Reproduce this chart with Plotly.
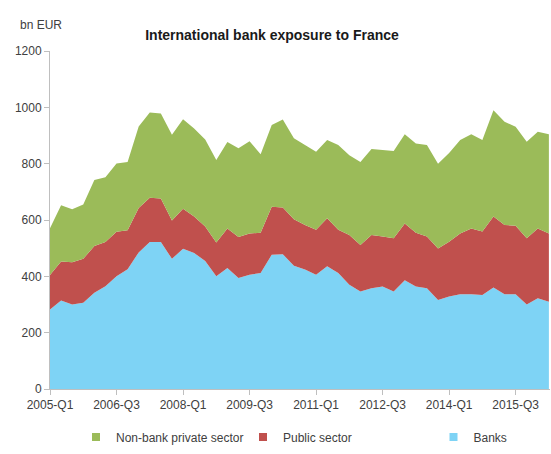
import plotly.graph_objects as go

# Quarterly categories 2005-Q1 .. 2016-Q2
quarters = [f"{y}-Q{q}" for y in range(2005, 2017) for q in range(1, 5)][:46]
tick_labels = ["2005-Q1", "2006-Q3", "2008-Q1", "2009-Q3", "2011-Q1", "2012-Q3", "2014-Q1", "2015-Q3"]

# (bn EUR)
banks = [282, 314, 300, 306, 342, 365, 400, 425, 485, 522, 522, 462, 498, 483, 454, 400,
         430, 394, 406, 412, 477, 478, 438, 424, 406, 436, 412, 370, 346, 358, 364, 346,
         386, 364, 358, 316, 328, 336, 336, 334, 360, 336, 336, 300, 322, 310]
public_sector = [123, 139, 150, 156, 166, 157, 158, 139, 158, 157, 154, 136, 142, 129, 123, 120,
                 140, 146, 146, 143, 170, 166, 165, 158, 159, 170, 153, 177, 165, 189, 177, 189,
                 202, 191, 183, 183, 195, 216, 234, 225, 252, 246, 244, 235, 248, 242]
non_bank_private = [166, 199, 188, 193, 234, 230, 243, 242, 289, 303, 302, 305, 318, 313, 309, 293,
                    307, 315, 328, 278, 290, 313, 287, 284, 277, 278, 301, 283, 295, 305, 307, 310,
                    316, 317, 325, 301, 315, 332, 334, 325, 378, 367, 351, 343, 343, 352]

series = [
    ("Banks", banks, "#7ED3F5"),
    ("Public sector", public_sector, "#C0504D"),
    ("Non-bank private sector", non_bank_private, "#9BBB59"),
]

fig = go.Figure()
x_idx = list(range(len(quarters)))
for name, vals, col in series:
    fig.add_trace(go.Scatter(
        x=x_idx, y=vals, name=name, stackgroup="one", mode="lines",
        line=dict(width=0, color=col), fillcolor=col, showlegend=False,
        hoverinfo="x+y+name",
    ))

# Legend entries with small square markers, each in its own legend box
legend_ids = {"Non-bank private sector": "legend", "Public sector": "legend2", "Banks": "legend3"}
for name, vals, col in reversed(series):
    fig.add_trace(go.Scatter(
        x=[None], y=[None], mode="markers", name=name,
        marker=dict(symbol="square", size=8, color=col), showlegend=True,
        legend=legend_ids[name],
    ))

tick_pos = [quarters.index(t) for t in tick_labels]

font_main = "Liberation Sans, Arial, sans-serif"
leg_common = dict(
    orientation="h", xanchor="left", y=-0.142, yanchor="middle",
    font=dict(size=12, color="#404040"), bgcolor="rgba(0,0,0,0)", itemwidth=30,
)

fig.update_layout(
    width=551, height=454,
    margin=dict(l=50, r=1, t=51, b=65),
    paper_bgcolor="white", plot_bgcolor="white",
    font=dict(family=font_main, size=12, color="#404040"),
    title=dict(
        text="International bank exposure to France",
        font=dict(family="Liberation Sans Narrow, Liberation Sans, Arial, sans-serif",
                  size=14, color="#1a1a1a", weight="bold"),
        x=272 / 551, xanchor="center", y=1 - 35 / 454, yanchor="middle",
    ),
    xaxis=dict(
        range=[0, 45.1], tickmode="array", tickvals=tick_pos, ticktext=tick_labels,
        showgrid=False, zeroline=False, showline=True, linecolor="#bfbfbf", linewidth=1,
        ticks="outside", ticklen=5, tickcolor="#bfbfbf",
        tickfont=dict(size=12, color="#404040"),
    ),
    yaxis=dict(
        range=[0, 1200], tickvals=[0, 200, 400, 600, 800, 1000, 1200],
        showgrid=False, zeroline=False, showline=True, linecolor="#bfbfbf", linewidth=1,
        ticks="outside", ticklen=5, tickcolor="#bfbfbf",
        tickfont=dict(size=12, color="#404040"),
    ),
    legend=dict(x=0.052, **leg_common),
    legend2=dict(x=0.386, **leg_common),
    legend3=dict(x=0.767, **leg_common),
    annotations=[dict(
        text="bn EUR", xref="paper", yref="paper", x=-0.065, y=1 + 26 / 338,
        xanchor="left", yanchor="middle", showarrow=False,
        font=dict(size=12, color="#404040"),
    )],
)

fig.write_html(
    "out.html",
    config={"displayModeBar": False},
    post_script="document.body.style.margin='0';document.body.style.overflow='hidden';",
)
